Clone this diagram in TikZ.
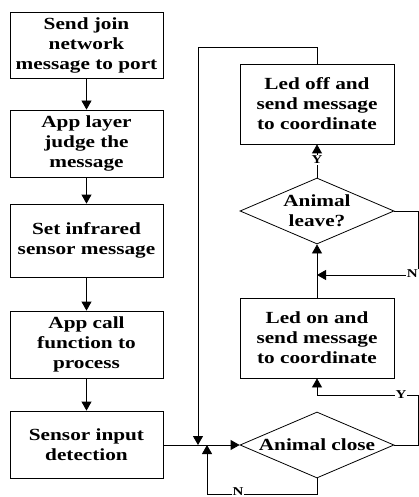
\documentclass[tikz,border=0pt]{standalone}
\usepackage{fontspec}
\setmainfont[FakeStretch=1.25]{Liberation Serif}
\usetikzlibrary{arrows.meta, shapes.geometric}

\begin{document}
\begin{tikzpicture}[x=1pt, y=-1pt, >={Triangle[length=9pt, width=10pt]},
	every node/.style={font=\fontsize{17}{20}\selectfont\bfseries, align=center},
	stepbox/.style={draw, line width=0.8pt, minimum width=153pt, inner sep=0pt},
	choice/.style={draw, diamond, line width=0.8pt, aspect=2.33, minimum width=154pt, minimum height=66pt, inner sep=0pt},
	flow/.style={line width=0.8pt},
	tag/.style={fill=white, inner sep=1pt, font=\fontsize{12}{12}\selectfont\bfseries}]
	\useasboundingbox (0,0) rectangle (419,497);
	% left column
	\node[stepbox, minimum height=66pt] (join) at (86.5, 45) {Send join\\network\\message to port};
	\node[stepbox, minimum height=67pt] (judge) at (86.5, 143.5) {App layer\\judge the\\message};
	\node[stepbox, minimum height=73pt] (infra) at (86.5, 240.5) {Set infrared\\sensor message};
	\node[stepbox, minimum height=67pt] (call) at (86.5, 344.5) {App call\\function to\\process};
	\node[stepbox, minimum height=67pt] (input) at (86.5, 444.5) {Sensor input\\detection};
	% right column
	\node[stepbox, minimum width=154pt, minimum height=80pt] (ledoff) at (317, 104) {Led off and\\send message\\to coordinate};
	\node[choice] (leave) at (317, 211) {Animal\\leave?};
	\node[stepbox, minimum width=154pt, minimum height=80pt] (ledon) at (317, 338) {Led on and\\send message\\to coordinate};
	\node[choice] (close) at (317, 445) {Animal close};
	\coordinate (jdown) at (198, 445);
	\coordinate (jup) at (207, 445);
	% connectors
	\draw[flow, ->] (join) -- (judge);
	\draw[flow, ->] (judge) -- (infra);
	\draw[flow, ->] (infra) -- (call);
	\draw[flow, ->] (call) -- (input);
	\draw[flow, ->] (input.east |- close.west) -- (close.west);
	\draw[flow, ->] (ledoff.north) -- ++(0, -16) -| (jdown);
	\draw[flow, ->] (close.south) -- ++(0, 16) -| (jup);
	\node[tag, anchor=south] (cn) at (238, 497) {N};
	\draw[flow, ->] (close.east) -- (418, 445) -- (418, 395) -- (ledon.south |- 0, 395) -- (ledon.south);
	\node[tag] (cy) at (401, 395) {Y};
	\draw[flow, ->] (ledon.north) -- (leave.south);
	\draw[flow, ->] (leave.east) -- (418, 211) -- (418, 275) -- (ledon.north |- 0, 275);
	\node[tag, anchor=east] (ln) at (419, 274) {N};
	\draw[flow, ->] (leave.north) -- (ledoff.south);
	\node[tag] (ly) at (317, 160) {Y};
\end{tikzpicture}
\end{document}
